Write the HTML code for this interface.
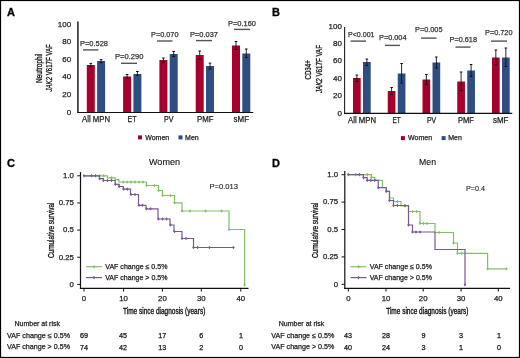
<!DOCTYPE html>
<html><head><meta charset="utf-8"><style>
html,body{margin:0;padding:0;background:#fff;}
body{width:520px;height:358px;overflow:hidden;}
svg{display:block;font-family:"Liberation Sans", sans-serif;will-change:transform;}
</style></head><body>
<svg width="520" height="358" viewBox="0 0 520 358">
<rect x="0" y="0" width="520" height="358" fill="#fff"/>
<rect x="0" y="0" width="520" height="1.1" fill="#000" />
<rect x="0" y="0" width="1.1" height="358" fill="#000" />
<rect x="518.9" y="0" width="1.1" height="358" fill="#000" />
<rect x="0" y="356.9" width="520" height="1.1" fill="#000" />
<text x="7" y="16.3" font-size="11" text-anchor="start" fill="#000" font-weight="bold" font-style="normal" stroke="#000" stroke-width="0.3" >A</text>
<text x="272" y="16.3" font-size="11" text-anchor="start" fill="#000" font-weight="bold" font-style="normal" stroke="#000" stroke-width="0.3" >B</text>
<text x="7" y="167.2" font-size="11" text-anchor="start" fill="#000" font-weight="bold" font-style="normal" stroke="#000" stroke-width="0.3" >C</text>
<text x="272" y="167.2" font-size="11" text-anchor="start" fill="#000" font-weight="bold" font-style="normal" stroke="#000" stroke-width="0.3" >D</text>
<text x="71.1" y="114.6" font-size="8" text-anchor="end" fill="#222" font-weight="normal" font-style="normal" stroke="#222" stroke-width="0.25" >0</text>
<text x="71.1" y="97.0" font-size="8" text-anchor="end" fill="#222" font-weight="normal" font-style="normal" stroke="#222" stroke-width="0.25" >20</text>
<text x="71.1" y="79.4" font-size="8" text-anchor="end" fill="#222" font-weight="normal" font-style="normal" stroke="#222" stroke-width="0.25" >40</text>
<text x="71.1" y="61.8" font-size="8" text-anchor="end" fill="#222" font-weight="normal" font-style="normal" stroke="#222" stroke-width="0.25" >60</text>
<text x="71.1" y="44.2" font-size="8" text-anchor="end" fill="#222" font-weight="normal" font-style="normal" stroke="#222" stroke-width="0.25" >80</text>
<text x="71.1" y="26.6" font-size="8" text-anchor="end" fill="#222" font-weight="normal" font-style="normal" stroke="#222" stroke-width="0.25" >100</text>
<rect x="86.8" y="65" width="8" height="47.5" fill="#a8002c" />
<line x1="90.8" y1="63.4" x2="90.8" y2="66.6" stroke="#111" stroke-width="0.9" />
<line x1="89.5" y1="63.4" x2="92.1" y2="63.4" stroke="#111" stroke-width="1" />
<line x1="89.5" y1="66.6" x2="92.1" y2="66.6" stroke="#111" stroke-width="1" />
<rect x="97.1" y="61" width="8" height="51.5" fill="#2e4e82" />
<line x1="101.1" y1="59.6" x2="101.1" y2="62.6" stroke="#111" stroke-width="0.9" />
<line x1="99.8" y1="59.6" x2="102.39999999999999" y2="59.6" stroke="#111" stroke-width="1" />
<line x1="99.8" y1="62.6" x2="102.39999999999999" y2="62.6" stroke="#111" stroke-width="1" />
<text x="96" y="122.0" font-size="8.2" text-anchor="middle" fill="#222" font-weight="normal" font-style="normal" stroke="#222" stroke-width="0.25" textLength="28" lengthAdjust="spacingAndGlyphs">All MPN</text>
<text x="80" y="46.2" font-size="7.8" text-anchor="start" fill="#333" font-weight="normal" font-style="normal" stroke="#333" stroke-width="0.25" textLength="28" lengthAdjust="spacingAndGlyphs">P=0.528</text>
<line x1="83" y1="49.9" x2="98.4" y2="49.9" stroke="#555" stroke-width="1.4" />
<rect x="123.1" y="76.5" width="8" height="36.0" fill="#a8002c" />
<line x1="127.1" y1="74.5" x2="127.1" y2="78" stroke="#111" stroke-width="0.9" />
<line x1="125.8" y1="74.5" x2="128.4" y2="74.5" stroke="#111" stroke-width="1" />
<line x1="125.8" y1="78" x2="128.4" y2="78" stroke="#111" stroke-width="1" />
<rect x="133.4" y="74" width="8" height="38.5" fill="#2e4e82" />
<line x1="137.4" y1="71.5" x2="137.4" y2="75.5" stroke="#111" stroke-width="0.9" />
<line x1="136.1" y1="71.5" x2="138.70000000000002" y2="71.5" stroke="#111" stroke-width="1" />
<line x1="136.1" y1="75.5" x2="138.70000000000002" y2="75.5" stroke="#111" stroke-width="1" />
<text x="132" y="122.0" font-size="8.2" text-anchor="middle" fill="#222" font-weight="normal" font-style="normal" stroke="#222" stroke-width="0.25" textLength="9" lengthAdjust="spacingAndGlyphs">ET</text>
<text x="115" y="59" font-size="7.8" text-anchor="start" fill="#333" font-weight="normal" font-style="normal" stroke="#333" stroke-width="0.25" textLength="28.5" lengthAdjust="spacingAndGlyphs">P=0.290</text>
<line x1="121" y1="63.3" x2="137" y2="63.3" stroke="#555" stroke-width="1.4" />
<rect x="159.39999999999998" y="60" width="8" height="52.5" fill="#a8002c" />
<line x1="163.39999999999998" y1="58" x2="163.39999999999998" y2="62.5" stroke="#111" stroke-width="0.9" />
<line x1="162.09999999999997" y1="58" x2="164.7" y2="58" stroke="#111" stroke-width="1" />
<line x1="162.09999999999997" y1="62.5" x2="164.7" y2="62.5" stroke="#111" stroke-width="1" />
<rect x="169.7" y="54" width="8" height="58.5" fill="#2e4e82" />
<line x1="173.7" y1="51.5" x2="173.7" y2="56.5" stroke="#111" stroke-width="0.9" />
<line x1="172.39999999999998" y1="51.5" x2="175.0" y2="51.5" stroke="#111" stroke-width="1" />
<line x1="172.39999999999998" y1="56.5" x2="175.0" y2="56.5" stroke="#111" stroke-width="1" />
<text x="168.75" y="122.0" font-size="8.2" text-anchor="middle" fill="#222" font-weight="normal" font-style="normal" stroke="#222" stroke-width="0.25" textLength="9.5" lengthAdjust="spacingAndGlyphs">PV</text>
<text x="151" y="36.5" font-size="7.8" text-anchor="start" fill="#333" font-weight="normal" font-style="normal" stroke="#333" stroke-width="0.25" textLength="27.5" lengthAdjust="spacingAndGlyphs">P=0.070</text>
<line x1="157" y1="41" x2="172.5" y2="41" stroke="#555" stroke-width="1.4" />
<rect x="195.7" y="55" width="8" height="57.5" fill="#a8002c" />
<line x1="199.7" y1="51.0" x2="199.7" y2="59.4" stroke="#111" stroke-width="0.9" />
<line x1="198.39999999999998" y1="51.0" x2="201.0" y2="51.0" stroke="#111" stroke-width="1" />
<line x1="198.39999999999998" y1="59.4" x2="201.0" y2="59.4" stroke="#111" stroke-width="1" />
<rect x="206.0" y="66" width="8" height="46.5" fill="#2e4e82" />
<line x1="210.0" y1="63.1" x2="210.0" y2="69" stroke="#111" stroke-width="0.9" />
<line x1="208.7" y1="63.1" x2="211.3" y2="63.1" stroke="#111" stroke-width="1" />
<line x1="208.7" y1="69" x2="211.3" y2="69" stroke="#111" stroke-width="1" />
<text x="205.25" y="122.0" font-size="8.2" text-anchor="middle" fill="#222" font-weight="normal" font-style="normal" stroke="#222" stroke-width="0.25" textLength="16.5" lengthAdjust="spacingAndGlyphs">PMF</text>
<text x="190" y="36.5" font-size="7.8" text-anchor="start" fill="#333" font-weight="normal" font-style="normal" stroke="#333" stroke-width="0.25" textLength="28" lengthAdjust="spacingAndGlyphs">P=0.037</text>
<line x1="196" y1="40.6" x2="212" y2="40.6" stroke="#555" stroke-width="1.4" />
<rect x="232.0" y="45.5" width="8" height="67.0" fill="#a8002c" />
<line x1="236.0" y1="41.5" x2="236.0" y2="49.5" stroke="#111" stroke-width="0.9" />
<line x1="234.7" y1="41.5" x2="237.3" y2="41.5" stroke="#111" stroke-width="1" />
<line x1="234.7" y1="49.5" x2="237.3" y2="49.5" stroke="#111" stroke-width="1" />
<rect x="242.3" y="53.5" width="8" height="59.0" fill="#2e4e82" />
<line x1="246.3" y1="49" x2="246.3" y2="57.5" stroke="#111" stroke-width="0.9" />
<line x1="245.0" y1="49" x2="247.60000000000002" y2="49" stroke="#111" stroke-width="1" />
<line x1="245.0" y1="57.5" x2="247.60000000000002" y2="57.5" stroke="#111" stroke-width="1" />
<text x="241.3" y="122.0" font-size="8.2" text-anchor="middle" fill="#222" font-weight="normal" font-style="normal" stroke="#222" stroke-width="0.25" textLength="15.4" lengthAdjust="spacingAndGlyphs">sMF</text>
<text x="228" y="26" font-size="7.8" text-anchor="start" fill="#333" font-weight="normal" font-style="normal" stroke="#333" stroke-width="0.25" textLength="28" lengthAdjust="spacingAndGlyphs">P=0.160</text>
<line x1="234" y1="29.4" x2="250" y2="29.4" stroke="#555" stroke-width="1.4" />
<rect x="77" y="21.5" width="1" height="91.5" fill="#444" />
<rect x="78" y="21.5" width="1" height="91.5" fill="#6a6a6a" />
<line x1="77.5" y1="112.5" x2="253.3" y2="112.5" stroke="#111" stroke-width="1.1" />
<rect x="138" y="135.4" width="4" height="4" fill="#a8002c" />
<text x="145.2" y="139.6" font-size="7" text-anchor="start" fill="#222" font-weight="normal" font-style="normal" stroke="#222" stroke-width="0.25" >Women</text>
<rect x="178.5" y="135.4" width="4" height="4" fill="#2e4e82" />
<text x="185.1" y="139.6" font-size="7" text-anchor="start" fill="#222" font-weight="normal" font-style="normal" stroke="#222" stroke-width="0.25" >Men</text>
<text transform="translate(41.8,82.9) rotate(-90)" x="0" y="0" font-size="8.8" fill="#111" stroke="#111" stroke-width="0.3" textLength="29.4" lengthAdjust="spacingAndGlyphs"><tspan font-style="normal">Neutrophil</tspan></text>
<text transform="translate(52.0,91.5) rotate(-90)" x="0" y="0" font-size="8.8" fill="#111" stroke="#111" stroke-width="0.3" textLength="47.2" lengthAdjust="spacingAndGlyphs"><tspan font-style="italic">JAK2</tspan><tspan font-style="normal"> V617F VAF</tspan></text>
<text x="341.9" y="115.5" font-size="8" text-anchor="end" fill="#222" font-weight="normal" font-style="normal" stroke="#222" stroke-width="0.25" >0</text>
<text x="341.9" y="98.1" font-size="8" text-anchor="end" fill="#222" font-weight="normal" font-style="normal" stroke="#222" stroke-width="0.25" >20</text>
<text x="341.9" y="80.7" font-size="8" text-anchor="end" fill="#222" font-weight="normal" font-style="normal" stroke="#222" stroke-width="0.25" >40</text>
<text x="341.9" y="63.3" font-size="8" text-anchor="end" fill="#222" font-weight="normal" font-style="normal" stroke="#222" stroke-width="0.25" >60</text>
<text x="341.9" y="45.9" font-size="8" text-anchor="end" fill="#222" font-weight="normal" font-style="normal" stroke="#222" stroke-width="0.25" >80</text>
<text x="341.9" y="28.5" font-size="8" text-anchor="end" fill="#222" font-weight="normal" font-style="normal" stroke="#222" stroke-width="0.25" >100</text>
<rect x="353.0" y="78" width="7.7" height="35.400000000000006" fill="#a8002c" />
<line x1="356.85" y1="75" x2="356.85" y2="81.5" stroke="#111" stroke-width="0.9" />
<line x1="355.55" y1="75" x2="358.15000000000003" y2="75" stroke="#111" stroke-width="1" />
<line x1="355.55" y1="81.5" x2="358.15000000000003" y2="81.5" stroke="#111" stroke-width="1" />
<rect x="363.0" y="62" width="7.7" height="51.400000000000006" fill="#2e4e82" />
<line x1="366.85" y1="59" x2="366.85" y2="65.5" stroke="#111" stroke-width="0.9" />
<line x1="365.55" y1="59" x2="368.15000000000003" y2="59" stroke="#111" stroke-width="1" />
<line x1="365.55" y1="65.5" x2="368.15000000000003" y2="65.5" stroke="#111" stroke-width="1" />
<text x="362" y="123.0" font-size="8.2" text-anchor="middle" fill="#222" font-weight="normal" font-style="normal" stroke="#222" stroke-width="0.25" textLength="28" lengthAdjust="spacingAndGlyphs">All MPN</text>
<text x="348" y="36.6" font-size="7.8" text-anchor="start" fill="#333" font-weight="normal" font-style="normal" stroke="#333" stroke-width="0.25" textLength="26.5" lengthAdjust="spacingAndGlyphs">P&lt;0.001</text>
<line x1="350.5" y1="41.1" x2="366" y2="41.1" stroke="#555" stroke-width="1.4" />
<rect x="387.75" y="91" width="7.7" height="22.400000000000006" fill="#a8002c" />
<line x1="391.6" y1="87.5" x2="391.6" y2="94.5" stroke="#111" stroke-width="0.9" />
<line x1="390.3" y1="87.5" x2="392.90000000000003" y2="87.5" stroke="#111" stroke-width="1" />
<line x1="390.3" y1="94.5" x2="392.90000000000003" y2="94.5" stroke="#111" stroke-width="1" />
<rect x="397.75" y="73.5" width="7.7" height="39.900000000000006" fill="#2e4e82" />
<line x1="401.6" y1="63.5" x2="401.6" y2="83" stroke="#111" stroke-width="0.9" />
<line x1="400.3" y1="63.5" x2="402.90000000000003" y2="63.5" stroke="#111" stroke-width="1" />
<line x1="400.3" y1="83" x2="402.90000000000003" y2="83" stroke="#111" stroke-width="1" />
<text x="396.5" y="123.0" font-size="8.2" text-anchor="middle" fill="#222" font-weight="normal" font-style="normal" stroke="#222" stroke-width="0.25" textLength="8.2" lengthAdjust="spacingAndGlyphs">ET</text>
<text x="379" y="40.1" font-size="7.8" text-anchor="start" fill="#333" font-weight="normal" font-style="normal" stroke="#333" stroke-width="0.25" textLength="27.5" lengthAdjust="spacingAndGlyphs">P=0.004</text>
<line x1="385" y1="45.4" x2="400" y2="45.4" stroke="#555" stroke-width="1.4" />
<rect x="422.5" y="79.5" width="7.7" height="33.900000000000006" fill="#a8002c" />
<line x1="426.35" y1="74.5" x2="426.35" y2="84.5" stroke="#111" stroke-width="0.9" />
<line x1="425.05" y1="74.5" x2="427.65000000000003" y2="74.5" stroke="#111" stroke-width="1" />
<line x1="425.05" y1="84.5" x2="427.65000000000003" y2="84.5" stroke="#111" stroke-width="1" />
<rect x="432.5" y="62.5" width="7.7" height="50.900000000000006" fill="#2e4e82" />
<line x1="436.35" y1="57" x2="436.35" y2="68" stroke="#111" stroke-width="0.9" />
<line x1="435.05" y1="57" x2="437.65000000000003" y2="57" stroke="#111" stroke-width="1" />
<line x1="435.05" y1="68" x2="437.65000000000003" y2="68" stroke="#111" stroke-width="1" />
<text x="431.5" y="123.0" font-size="8.2" text-anchor="middle" fill="#222" font-weight="normal" font-style="normal" stroke="#222" stroke-width="0.25" textLength="9.2" lengthAdjust="spacingAndGlyphs">PV</text>
<text x="415" y="32.1" font-size="7.8" text-anchor="start" fill="#333" font-weight="normal" font-style="normal" stroke="#333" stroke-width="0.25" textLength="27.5" lengthAdjust="spacingAndGlyphs">P=0.005</text>
<line x1="421" y1="38.1" x2="436.5" y2="38.1" stroke="#555" stroke-width="1.4" />
<rect x="457.25" y="81.5" width="7.7" height="31.900000000000006" fill="#a8002c" />
<line x1="461.1" y1="72" x2="461.1" y2="90.5" stroke="#111" stroke-width="0.9" />
<line x1="459.8" y1="72" x2="462.40000000000003" y2="72" stroke="#111" stroke-width="1" />
<line x1="459.8" y1="90.5" x2="462.40000000000003" y2="90.5" stroke="#111" stroke-width="1" />
<rect x="467.25" y="70.5" width="7.7" height="42.900000000000006" fill="#2e4e82" />
<line x1="471.1" y1="64.5" x2="471.1" y2="76.5" stroke="#111" stroke-width="0.9" />
<line x1="469.8" y1="64.5" x2="472.40000000000003" y2="64.5" stroke="#111" stroke-width="1" />
<line x1="469.8" y1="76.5" x2="472.40000000000003" y2="76.5" stroke="#111" stroke-width="1" />
<text x="466" y="123.0" font-size="8.2" text-anchor="middle" fill="#222" font-weight="normal" font-style="normal" stroke="#222" stroke-width="0.25" textLength="16" lengthAdjust="spacingAndGlyphs">PMF</text>
<text x="449.5" y="41.6" font-size="7.8" text-anchor="start" fill="#333" font-weight="normal" font-style="normal" stroke="#333" stroke-width="0.25" textLength="27.5" lengthAdjust="spacingAndGlyphs">P=0.618</text>
<line x1="455.5" y1="47.1" x2="470.5" y2="47.1" stroke="#555" stroke-width="1.4" />
<rect x="492.0" y="57.5" width="7.7" height="55.900000000000006" fill="#a8002c" />
<line x1="495.85" y1="50" x2="495.85" y2="65" stroke="#111" stroke-width="0.9" />
<line x1="494.55" y1="50" x2="497.15000000000003" y2="50" stroke="#111" stroke-width="1" />
<line x1="494.55" y1="65" x2="497.15000000000003" y2="65" stroke="#111" stroke-width="1" />
<rect x="502.0" y="57.5" width="7.7" height="55.900000000000006" fill="#2e4e82" />
<line x1="505.85" y1="48" x2="505.85" y2="66.5" stroke="#111" stroke-width="0.9" />
<line x1="504.55" y1="48" x2="507.15000000000003" y2="48" stroke="#111" stroke-width="1" />
<line x1="504.55" y1="66.5" x2="507.15000000000003" y2="66.5" stroke="#111" stroke-width="1" />
<text x="500.75" y="123.0" font-size="8.2" text-anchor="middle" fill="#222" font-weight="normal" font-style="normal" stroke="#222" stroke-width="0.25" textLength="15.5" lengthAdjust="spacingAndGlyphs">sMF</text>
<text x="485" y="35.1" font-size="7.8" text-anchor="start" fill="#333" font-weight="normal" font-style="normal" stroke="#333" stroke-width="0.25" textLength="27.5" lengthAdjust="spacingAndGlyphs">P=0.720</text>
<line x1="491" y1="41.1" x2="507" y2="41.1" stroke="#555" stroke-width="1.4" />
<line x1="344.6" y1="27" x2="344.6" y2="113.9" stroke="#222" stroke-width="1.1" />
<line x1="344.1" y1="113.4" x2="512.3" y2="113.4" stroke="#111" stroke-width="1.1" />
<rect x="400.9" y="136.1" width="4" height="4" fill="#a8002c" />
<text x="408.09999999999997" y="140.29999999999998" font-size="7" text-anchor="start" fill="#222" font-weight="normal" font-style="normal" stroke="#222" stroke-width="0.25" >Women</text>
<rect x="441.6" y="136.1" width="4" height="4" fill="#2e4e82" />
<text x="448.20000000000005" y="140.29999999999998" font-size="7" text-anchor="start" fill="#222" font-weight="normal" font-style="normal" stroke="#222" stroke-width="0.25" >Men</text>
<text transform="translate(311.2,79.6) rotate(-90)" x="0" y="0" font-size="8.8" fill="#111" stroke="#111" stroke-width="0.3" textLength="19.5" lengthAdjust="spacingAndGlyphs"><tspan font-style="normal">CD34+</tspan></text>
<text transform="translate(322.3,93.0) rotate(-90)" x="0" y="0" font-size="8.8" fill="#111" stroke="#111" stroke-width="0.3" textLength="48" lengthAdjust="spacingAndGlyphs"><tspan font-style="italic">JAK2</tspan><tspan font-style="normal"> V617F VAF</tspan></text>
<text x="149" y="165.3" font-size="9.6" text-anchor="start" fill="#111" font-weight="normal" font-style="normal" stroke="#111" stroke-width="0.12" textLength="31" lengthAdjust="spacingAndGlyphs">Women</text>
<text x="209.5" y="189.1" font-size="7.6" text-anchor="start" fill="#222" font-weight="normal" font-style="normal" stroke="#222" stroke-width="0.12" textLength="28.5" lengthAdjust="spacingAndGlyphs">P=0.013</text>
<line x1="77.2" y1="175.8" x2="80.5" y2="175.8" stroke="#111" stroke-width="1" />
<text x="73.9" y="178.1" font-size="7.8" text-anchor="end" fill="#222" font-weight="normal" font-style="normal" stroke="#222" stroke-width="0.25" >1.0</text>
<line x1="77.2" y1="202.95" x2="80.5" y2="202.95" stroke="#111" stroke-width="1" />
<text x="73.9" y="205.25" font-size="7.8" text-anchor="end" fill="#222" font-weight="normal" font-style="normal" stroke="#222" stroke-width="0.25" >0.75</text>
<line x1="77.2" y1="230.1" x2="80.5" y2="230.1" stroke="#111" stroke-width="1" />
<text x="73.9" y="232.4" font-size="7.8" text-anchor="end" fill="#222" font-weight="normal" font-style="normal" stroke="#222" stroke-width="0.25" >0.5</text>
<line x1="77.2" y1="257.25" x2="80.5" y2="257.25" stroke="#111" stroke-width="1" />
<text x="73.9" y="259.55" font-size="7.8" text-anchor="end" fill="#222" font-weight="normal" font-style="normal" stroke="#222" stroke-width="0.25" >0.25</text>
<line x1="77.2" y1="284.4" x2="80.5" y2="284.4" stroke="#111" stroke-width="1" />
<text x="73.9" y="286.7" font-size="7.8" text-anchor="end" fill="#222" font-weight="normal" font-style="normal" stroke="#222" stroke-width="0.25" >0</text>
<line x1="84" y1="288.4" x2="84" y2="291.59999999999997" stroke="#111" stroke-width="1" />
<text x="84" y="300.9" font-size="7.8" text-anchor="middle" fill="#222" font-weight="normal" font-style="normal" stroke="#222" stroke-width="0.25" >0</text>
<line x1="123.6" y1="288.4" x2="123.6" y2="291.59999999999997" stroke="#111" stroke-width="1" />
<text x="123.6" y="300.9" font-size="7.8" text-anchor="middle" fill="#222" font-weight="normal" font-style="normal" stroke="#222" stroke-width="0.25" >10</text>
<line x1="162.4" y1="288.4" x2="162.4" y2="291.59999999999997" stroke="#111" stroke-width="1" />
<text x="162.4" y="300.9" font-size="7.8" text-anchor="middle" fill="#222" font-weight="normal" font-style="normal" stroke="#222" stroke-width="0.25" >20</text>
<line x1="201.3" y1="288.4" x2="201.3" y2="291.59999999999997" stroke="#111" stroke-width="1" />
<text x="201.3" y="300.9" font-size="7.8" text-anchor="middle" fill="#222" font-weight="normal" font-style="normal" stroke="#222" stroke-width="0.25" >30</text>
<line x1="240.8" y1="288.4" x2="240.8" y2="291.59999999999997" stroke="#111" stroke-width="1" />
<text x="240.8" y="300.9" font-size="7.8" text-anchor="middle" fill="#222" font-weight="normal" font-style="normal" stroke="#222" stroke-width="0.25" >40</text>
<path d="M84,175.8 107.4,175.8 107.4,177.9 115.2,177.9 115.2,179.6 118.9,179.6 118.9,182 146.5,182 146.5,185.5 158.5,185.5 158.5,190.5 162.5,190.5 162.5,195.5 174.5,195.5 174.5,202.8 182,202.8 182,211 229,211 229,229.5 244.6,229.5 244.6,285" fill="none" stroke="#82bf66" stroke-width="1.2" stroke-linejoin="miter"/>
<path d="M99.6,174.0L100.89999999999999,175.8L99.6,177.60000000000002L98.3,175.8ZM103.6,174.0L104.89999999999999,175.8L103.6,177.60000000000002L102.3,175.8ZM111.5,176.1L112.8,177.9L111.5,179.70000000000002L110.2,177.9ZM123.3,180.2L124.6,182L123.3,183.8L122.0,182ZM127.3,180.2L128.6,182L127.3,183.8L126.0,182ZM131,180.2L132.3,182L131,183.8L129.7,182ZM135,180.2L136.3,182L135,183.8L133.7,182ZM139,180.2L140.3,182L139,183.8L137.7,182ZM143,180.2L144.3,182L143,183.8L141.7,182ZM146.5,183.7L147.8,185.5L146.5,187.3L145.2,185.5ZM154.5,183.7L155.8,185.5L154.5,187.3L153.2,185.5ZM158.5,188.7L159.8,190.5L158.5,192.3L157.2,190.5ZM162.5,193.7L163.8,195.5L162.5,197.3L161.2,195.5ZM170.5,193.7L171.8,195.5L170.5,197.3L169.2,195.5ZM174.5,201.0L175.8,202.8L174.5,204.60000000000002L173.2,202.8ZM182,209.2L183.3,211L182,212.8L180.7,211ZM190,209.2L191.3,211L190,212.8L188.7,211ZM205.5,209.2L206.8,211L205.5,212.8L204.2,211ZM221.5,209.2L222.8,211L221.5,212.8L220.2,211ZM229,227.7L230.3,229.5L229,231.3L227.7,229.5ZM244.6,283.2L245.9,285L244.6,286.8L243.29999999999998,285Z" fill="#82bf66"/>
<path d="M84,175.8 99.4,175.8 99.4,178.7 103.4,178.7 103.4,180.5 115.2,180.5 115.2,184.3 119.2,184.3 119.2,186.5 123.3,186.5 123.3,189.1 130.5,189.1 130.5,194.5 138.5,194.5 138.5,205.3 146,205.3 146,208.8 158,208.8 158,219 170,219 170,225 174,225 174,231.5 182,231.5 182,238.5 193.5,238.5 193.5,247.5 233.5,247.5" fill="none" stroke="#785a92" stroke-width="1.2" stroke-linejoin="miter"/>
<path d="M84,174.0L85.3,175.8L84,177.60000000000002L82.7,175.8ZM91.5,174.0L92.8,175.8L91.5,177.60000000000002L90.2,175.8ZM95.5,174.0L96.8,175.8L95.5,177.60000000000002L94.2,175.8ZM99.8,176.89999999999998L101.1,178.7L99.8,180.5L98.5,178.7ZM103.5,178.7L104.8,180.5L103.5,182.3L102.2,180.5ZM107.4,178.7L108.7,180.5L107.4,182.3L106.10000000000001,180.5ZM111.5,178.7L112.8,180.5L111.5,182.3L110.2,180.5ZM115.4,182.5L116.7,184.3L115.4,186.10000000000002L114.10000000000001,184.3ZM119.2,184.7L120.5,186.5L119.2,188.3L117.9,186.5ZM123.5,187.29999999999998L124.8,189.1L123.5,190.9L122.2,189.1ZM127.3,187.29999999999998L128.6,189.1L127.3,190.9L126.0,189.1ZM131,192.7L132.3,194.5L131,196.3L129.7,194.5ZM135,192.7L136.3,194.5L135,196.3L133.7,194.5ZM139,203.5L140.3,205.3L139,207.10000000000002L137.7,205.3ZM142.5,203.5L143.8,205.3L142.5,207.10000000000002L141.2,205.3ZM146.5,207.0L147.8,208.8L146.5,210.60000000000002L145.2,208.8ZM150.5,207.0L151.8,208.8L150.5,210.60000000000002L149.2,208.8ZM158.5,217.2L159.8,219L158.5,220.8L157.2,219ZM162.5,217.2L163.8,219L162.5,220.8L161.2,219ZM166.5,217.2L167.8,219L166.5,220.8L165.2,219ZM170.5,223.2L171.8,225L170.5,226.8L169.2,225ZM174.5,229.7L175.8,231.5L174.5,233.3L173.2,231.5ZM182,236.7L183.3,238.5L182,240.3L180.7,238.5ZM186,236.7L187.3,238.5L186,240.3L184.7,238.5ZM193.5,245.7L194.8,247.5L193.5,249.3L192.2,247.5ZM197.5,245.7L198.8,247.5L197.5,249.3L196.2,247.5ZM209.5,245.7L210.8,247.5L209.5,249.3L208.2,247.5ZM233.5,245.7L234.8,247.5L233.5,249.3L232.2,247.5Z" fill="#785a92"/>
<line x1="80.5" y1="172" x2="80.5" y2="288.9" stroke="#111" stroke-width="1.2" />
<line x1="79.9" y1="288.4" x2="248.5" y2="288.4" stroke="#111" stroke-width="1.2" />
<text x="123" y="313.6" font-size="9" fill="#111" stroke="#111" stroke-width="0.35" textLength="82.3" lengthAdjust="spacingAndGlyphs">Time since diagnosis (years)</text>
<text transform="translate(53.6,258) rotate(-90)" font-size="8.6" fill="#111" stroke="#111" stroke-width="0.3" textLength="55.5" lengthAdjust="spacingAndGlyphs">Cumulative survival</text>
<line x1="86" y1="266.7" x2="102" y2="266.7" stroke="#82bf66" stroke-width="1.2" />
<path d="M94,264.9L95.3,266.7L94,268.5L92.7,266.7Z" fill="#82bf66"/>
<text x="105.2" y="269.3" font-size="7.1" text-anchor="start" fill="#222" font-weight="normal" font-style="normal" stroke="#222" stroke-width="0.25" textLength="62.3" lengthAdjust="spacingAndGlyphs">VAF change ≤ 0.5%</text>
<line x1="86" y1="277.6" x2="102" y2="277.6" stroke="#785a92" stroke-width="1.2" />
<path d="M94,275.8L95.3,277.6L94,279.40000000000003L92.7,277.6Z" fill="#785a92"/>
<text x="105.2" y="280.20000000000005" font-size="7.1" text-anchor="start" fill="#222" font-weight="normal" font-style="normal" stroke="#222" stroke-width="0.25" textLength="62.3" lengthAdjust="spacingAndGlyphs">VAF change &gt; 0.5%</text>
<text x="14.5" y="326.1" font-size="7" text-anchor="start" fill="#222" font-weight="normal" font-style="normal" stroke="#222" stroke-width="0.25" textLength="45.5" lengthAdjust="spacingAndGlyphs">Number at risk</text>
<text x="7" y="337.7" font-size="7.1" text-anchor="start" fill="#222" font-weight="normal" font-style="normal" stroke="#222" stroke-width="0.25" textLength="63" lengthAdjust="spacingAndGlyphs">VAF change ≤ 0.5%</text>
<text x="7" y="349.2" font-size="7.1" text-anchor="start" fill="#222" font-weight="normal" font-style="normal" stroke="#222" stroke-width="0.25" textLength="63" lengthAdjust="spacingAndGlyphs">VAF change &gt; 0.5%</text>
<text x="84" y="338.1" font-size="7.2" text-anchor="middle" fill="#111" font-weight="normal" font-style="normal" stroke="#111" stroke-width="0.25" >69</text>
<text x="84" y="349.5" font-size="7.2" text-anchor="middle" fill="#111" font-weight="normal" font-style="normal" stroke="#111" stroke-width="0.25" >74</text>
<text x="123" y="338.1" font-size="7.2" text-anchor="middle" fill="#111" font-weight="normal" font-style="normal" stroke="#111" stroke-width="0.25" >45</text>
<text x="123" y="349.5" font-size="7.2" text-anchor="middle" fill="#111" font-weight="normal" font-style="normal" stroke="#111" stroke-width="0.25" >42</text>
<text x="162.2" y="338.1" font-size="7.2" text-anchor="middle" fill="#111" font-weight="normal" font-style="normal" stroke="#111" stroke-width="0.25" >17</text>
<text x="162.2" y="349.5" font-size="7.2" text-anchor="middle" fill="#111" font-weight="normal" font-style="normal" stroke="#111" stroke-width="0.25" >13</text>
<text x="201.2" y="338.1" font-size="7.2" text-anchor="middle" fill="#111" font-weight="normal" font-style="normal" stroke="#111" stroke-width="0.25" >6</text>
<text x="201.2" y="349.5" font-size="7.2" text-anchor="middle" fill="#111" font-weight="normal" font-style="normal" stroke="#111" stroke-width="0.25" >2</text>
<text x="241" y="338.1" font-size="7.2" text-anchor="middle" fill="#111" font-weight="normal" font-style="normal" stroke="#111" stroke-width="0.25" >1</text>
<text x="241" y="349.5" font-size="7.2" text-anchor="middle" fill="#111" font-weight="normal" font-style="normal" stroke="#111" stroke-width="0.25" >0</text>
<text x="419" y="165.3" font-size="9.6" text-anchor="start" fill="#111" font-weight="normal" font-style="normal" stroke="#111" stroke-width="0.12" textLength="17" lengthAdjust="spacingAndGlyphs">Men</text>
<text x="466" y="191.1" font-size="7.6" text-anchor="start" fill="#222" font-weight="normal" font-style="normal" stroke="#222" stroke-width="0.12" textLength="19" lengthAdjust="spacingAndGlyphs">P=0.4</text>
<line x1="341.5" y1="174.7" x2="344.8" y2="174.7" stroke="#111" stroke-width="1" />
<text x="338.2" y="177.0" font-size="7.8" text-anchor="end" fill="#222" font-weight="normal" font-style="normal" stroke="#222" stroke-width="0.25" >1.0</text>
<line x1="341.5" y1="202.1" x2="344.8" y2="202.1" stroke="#111" stroke-width="1" />
<text x="338.2" y="204.4" font-size="7.8" text-anchor="end" fill="#222" font-weight="normal" font-style="normal" stroke="#222" stroke-width="0.25" >0.75</text>
<line x1="341.5" y1="229.5" x2="344.8" y2="229.5" stroke="#111" stroke-width="1" />
<text x="338.2" y="231.8" font-size="7.8" text-anchor="end" fill="#222" font-weight="normal" font-style="normal" stroke="#222" stroke-width="0.25" >0.5</text>
<line x1="341.5" y1="256.9" x2="344.8" y2="256.9" stroke="#111" stroke-width="1" />
<text x="338.2" y="259.2" font-size="7.8" text-anchor="end" fill="#222" font-weight="normal" font-style="normal" stroke="#222" stroke-width="0.25" >0.25</text>
<line x1="341.5" y1="284.3" x2="344.8" y2="284.3" stroke="#111" stroke-width="1" />
<text x="338.2" y="286.6" font-size="7.8" text-anchor="end" fill="#222" font-weight="normal" font-style="normal" stroke="#222" stroke-width="0.25" >0</text>
<line x1="348.3" y1="288.3" x2="348.3" y2="291.5" stroke="#111" stroke-width="1" />
<text x="348.3" y="300.9" font-size="7.8" text-anchor="middle" fill="#222" font-weight="normal" font-style="normal" stroke="#222" stroke-width="0.25" >0</text>
<line x1="386" y1="288.3" x2="386" y2="291.5" stroke="#111" stroke-width="1" />
<text x="386" y="300.9" font-size="7.8" text-anchor="middle" fill="#222" font-weight="normal" font-style="normal" stroke="#222" stroke-width="0.25" >10</text>
<line x1="423.2" y1="288.3" x2="423.2" y2="291.5" stroke="#111" stroke-width="1" />
<text x="423.2" y="300.9" font-size="7.8" text-anchor="middle" fill="#222" font-weight="normal" font-style="normal" stroke="#222" stroke-width="0.25" >20</text>
<line x1="461.1" y1="288.3" x2="461.1" y2="291.5" stroke="#111" stroke-width="1" />
<text x="461.1" y="300.9" font-size="7.8" text-anchor="middle" fill="#222" font-weight="normal" font-style="normal" stroke="#222" stroke-width="0.25" >30</text>
<line x1="498.3" y1="288.3" x2="498.3" y2="291.5" stroke="#111" stroke-width="1" />
<text x="498.3" y="300.9" font-size="7.8" text-anchor="middle" fill="#222" font-weight="normal" font-style="normal" stroke="#222" stroke-width="0.25" >40</text>
<path d="M348.2,174.6 371.4,174.6 371.4,177.4 374.8,177.4 374.8,180.4 382.4,180.4 382.4,187.5 386.4,187.5 386.4,191.4 389.5,191.4 389.5,198 393.5,198 393.5,201.5 401,201.5 401,206 408.5,206 408.5,211.5 420,211.5 420,223.5 435,223.5 435,232.5 453.5,232.5 453.5,243 457.5,243 457.5,253.3 487.6,253.3 487.6,268.8 506.5,268.8" fill="none" stroke="#82bf66" stroke-width="1.2" stroke-linejoin="miter"/>
<path d="M355.8,172.79999999999998L357.1,174.6L355.8,176.4L354.5,174.6ZM367.3,172.79999999999998L368.6,174.6L367.3,176.4L366.0,174.6ZM371.4,175.6L372.7,177.4L371.4,179.20000000000002L370.09999999999997,177.4ZM397.5,199.7L398.8,201.5L397.5,203.3L396.2,201.5ZM405,204.2L406.3,206L405,207.8L403.7,206ZM412.5,209.7L413.8,211.5L412.5,213.3L411.2,211.5ZM416.5,209.7L417.8,211.5L416.5,213.3L415.2,211.5ZM420,221.7L421.3,223.5L420,225.3L418.7,223.5ZM423.5,221.7L424.8,223.5L423.5,225.3L422.2,223.5ZM427,221.7L428.3,223.5L427,225.3L425.7,223.5ZM439,230.7L440.3,232.5L439,234.3L437.7,232.5ZM453.5,241.2L454.8,243L453.5,244.8L452.2,243ZM457.5,251.5L458.8,253.3L457.5,255.10000000000002L456.2,253.3ZM461.5,251.5L462.8,253.3L461.5,255.10000000000002L460.2,253.3ZM487.6,267.0L488.90000000000003,268.8L487.6,270.6L486.3,268.8ZM506.5,267.0L507.8,268.8L506.5,270.6L505.2,268.8Z" fill="#82bf66"/>
<path d="M348.2,174.6 363.5,174.6 363.5,177.6 367.2,177.6 367.2,180.4 378.3,180.4 378.3,187.7 386.2,187.7 386.2,191.4 389.5,191.4 389.5,200.5 393.5,200.5 393.5,205.5 408.5,205.5 408.5,225 412.5,225 412.5,232 435,232 435,249.5 465,249.5 465,284.7" fill="none" stroke="#785a92" stroke-width="1.2" stroke-linejoin="miter"/>
<path d="M348.2,172.79999999999998L349.5,174.6L348.2,176.4L346.9,174.6ZM359.5,172.79999999999998L360.8,174.6L359.5,176.4L358.2,174.6ZM363.5,175.79999999999998L364.8,177.6L363.5,179.4L362.2,177.6ZM367.2,178.6L368.5,180.4L367.2,182.20000000000002L365.9,180.4ZM370.9,178.6L372.2,180.4L370.9,182.20000000000002L369.59999999999997,180.4ZM374.6,178.6L375.90000000000003,180.4L374.6,182.20000000000002L373.3,180.4ZM378.3,185.89999999999998L379.6,187.7L378.3,189.5L377.0,187.7ZM386.2,189.6L387.5,191.4L386.2,193.20000000000002L384.9,191.4ZM389.5,198.7L390.8,200.5L389.5,202.3L388.2,200.5ZM393.5,203.7L394.8,205.5L393.5,207.3L392.2,205.5ZM397.5,203.7L398.8,205.5L397.5,207.3L396.2,205.5ZM405,203.7L406.3,205.5L405,207.3L403.7,205.5ZM408.5,223.2L409.8,225L408.5,226.8L407.2,225ZM412.5,230.2L413.8,232L412.5,233.8L411.2,232ZM416,230.2L417.3,232L416,233.8L414.7,232ZM420,230.2L421.3,232L420,233.8L418.7,232ZM465,282.9L466.3,284.7L465,286.5L463.7,284.7Z" fill="#785a92"/>
<line x1="344.8" y1="171" x2="344.8" y2="288.8" stroke="#111" stroke-width="1.2" />
<line x1="344.2" y1="288.3" x2="510" y2="288.3" stroke="#111" stroke-width="1.2" />
<text x="386.2" y="313.6" font-size="9" fill="#111" stroke="#111" stroke-width="0.35" textLength="82.3" lengthAdjust="spacingAndGlyphs">Time since diagnosis (years)</text>
<text transform="translate(318,258) rotate(-90)" font-size="8.6" fill="#111" stroke="#111" stroke-width="0.3" textLength="55.5" lengthAdjust="spacingAndGlyphs">Cumulative survival</text>
<line x1="350.5" y1="266.7" x2="366.5" y2="266.7" stroke="#82bf66" stroke-width="1.2" />
<path d="M358.5,264.9L359.8,266.7L358.5,268.5L357.2,266.7Z" fill="#82bf66"/>
<text x="369.7" y="269.3" font-size="7.1" text-anchor="start" fill="#222" font-weight="normal" font-style="normal" stroke="#222" stroke-width="0.25" textLength="62.3" lengthAdjust="spacingAndGlyphs">VAF change ≤ 0.5%</text>
<line x1="350.5" y1="277.6" x2="366.5" y2="277.6" stroke="#785a92" stroke-width="1.2" />
<path d="M358.5,275.8L359.8,277.6L358.5,279.40000000000003L357.2,277.6Z" fill="#785a92"/>
<text x="369.7" y="280.20000000000005" font-size="7.1" text-anchor="start" fill="#222" font-weight="normal" font-style="normal" stroke="#222" stroke-width="0.25" textLength="62.3" lengthAdjust="spacingAndGlyphs">VAF change &gt; 0.5%</text>
<text x="278.8" y="326.1" font-size="7" text-anchor="start" fill="#222" font-weight="normal" font-style="normal" stroke="#222" stroke-width="0.25" textLength="45.5" lengthAdjust="spacingAndGlyphs">Number at risk</text>
<text x="271.3" y="337.7" font-size="7.1" text-anchor="start" fill="#222" font-weight="normal" font-style="normal" stroke="#222" stroke-width="0.25" textLength="63" lengthAdjust="spacingAndGlyphs">VAF change ≤ 0.5%</text>
<text x="271.3" y="349.2" font-size="7.1" text-anchor="start" fill="#222" font-weight="normal" font-style="normal" stroke="#222" stroke-width="0.25" textLength="63" lengthAdjust="spacingAndGlyphs">VAF change &gt; 0.5%</text>
<text x="348" y="338.1" font-size="7.2" text-anchor="middle" fill="#111" font-weight="normal" font-style="normal" stroke="#111" stroke-width="0.25" >43</text>
<text x="348" y="349.5" font-size="7.2" text-anchor="middle" fill="#111" font-weight="normal" font-style="normal" stroke="#111" stroke-width="0.25" >40</text>
<text x="385.9" y="338.1" font-size="7.2" text-anchor="middle" fill="#111" font-weight="normal" font-style="normal" stroke="#111" stroke-width="0.25" >28</text>
<text x="385.9" y="349.5" font-size="7.2" text-anchor="middle" fill="#111" font-weight="normal" font-style="normal" stroke="#111" stroke-width="0.25" >24</text>
<text x="423.4" y="338.1" font-size="7.2" text-anchor="middle" fill="#111" font-weight="normal" font-style="normal" stroke="#111" stroke-width="0.25" >9</text>
<text x="423.4" y="349.5" font-size="7.2" text-anchor="middle" fill="#111" font-weight="normal" font-style="normal" stroke="#111" stroke-width="0.25" >3</text>
<text x="461" y="338.1" font-size="7.2" text-anchor="middle" fill="#111" font-weight="normal" font-style="normal" stroke="#111" stroke-width="0.25" >3</text>
<text x="461" y="349.5" font-size="7.2" text-anchor="middle" fill="#111" font-weight="normal" font-style="normal" stroke="#111" stroke-width="0.25" >1</text>
<text x="499" y="338.1" font-size="7.2" text-anchor="middle" fill="#111" font-weight="normal" font-style="normal" stroke="#111" stroke-width="0.25" >1</text>
<text x="499" y="349.5" font-size="7.2" text-anchor="middle" fill="#111" font-weight="normal" font-style="normal" stroke="#111" stroke-width="0.25" >0</text>
</svg>
</body></html>
